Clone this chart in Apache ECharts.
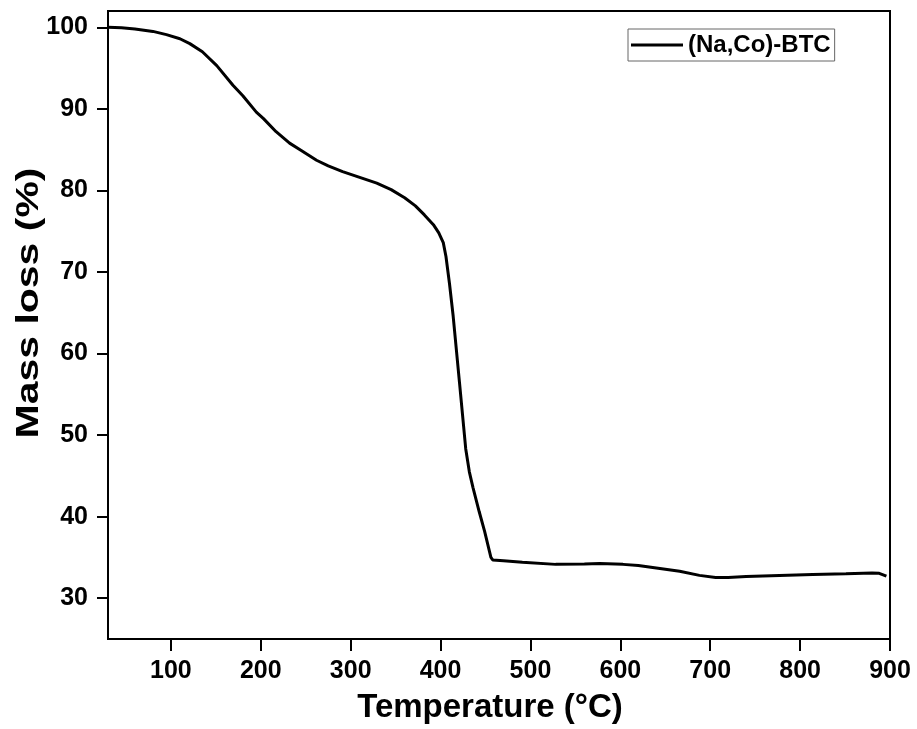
<!DOCTYPE html>
<html>
<head>
<meta charset="utf-8">
<script src="https://cdn.jsdelivr.net/npm/echarts@6/dist/echarts.min.js"></script>
<style>
  html, body { margin: 0; padding: 0; background: #fff; }
  #chart { width: 917px; height: 729px; }
</style>
</head>
<body>
<div id="chart"></div>
<script>
// TGA curve
const temperature = [30, 45, 60, 80, 95, 110, 121, 135, 151, 169, 180, 195, 203, 217, 232, 245, 262, 275, 291, 310,
  329, 345, 360, 372, 382, 392, 398, 403, 406, 410, 414, 421, 428, 432, 436, 443, 449, 456, 458, 470,
  491, 528, 560, 577, 603, 620, 640, 666, 688, 706, 720, 740, 777, 814, 851, 880, 888, 896];
const massLoss = [100, 99.95, 99.8, 99.5, 99.1, 98.6, 98.0, 97.0, 95.3, 92.9, 91.6, 89.6, 88.8, 87.2, 85.8, 84.9, 83.7, 83.0, 82.3, 81.6,
  80.9, 80.1, 79.1, 78.1, 77.0, 75.8, 74.8, 73.6, 71.9, 68.5, 64.6, 56.5, 48.3, 45.5, 43.6, 40.6, 38.2, 35.0, 34.7, 34.6,
  34.4, 34.15, 34.2, 34.25, 34.15, 34.0, 33.7, 33.3, 32.8, 32.55, 32.55, 32.65, 32.8, 32.9, 33.0, 33.1, 33.05, 32.7];
const xTicks = [100, 200, 300, 400, 500, 600, 700, 800, 900];
const yTicks = [30, 40, 50, 60, 70, 80, 90, 100];
const seriesName = '(Na,Co)-BTC';

const font = '"Liberation Sans", Arial, sans-serif';

const chart = echarts.init(document.getElementById('chart'));

const option = {
  backgroundColor: '#fff',
  animation: false,
  grid: {
    left: 108,
    right: 27,
    top: 11,
    bottom: 89,
    show: true,
    borderColor: '#000',
    borderWidth: 2
  },
  legend: {
    left: 628,
    top: 29,
    padding: [4, 4, 4, 3],
    borderColor: '#666',
    borderWidth: 1,
    icon: 'rect',
    itemWidth: 52,
    itemHeight: 3,
    textStyle: { fontFamily: font, fontWeight: 'bold', fontSize: 24, color: '#000' },
    data: [seriesName]
  },
  xAxis: {
    type: 'value',
    min: 30,
    max: 900,
    splitLine: { show: false },
    axisLine: { onZero: false, lineStyle: { color: '#000', width: 2 } },
    axisTick: { customValues: xTicks, length: 12, lineStyle: { color: '#000', width: 2 } },
    axisLabel: {
      customValues: xTicks,
      margin: 20,
      fontFamily: font, fontWeight: 'bold', fontSize: 25, color: '#000'
    },
    name: 'Temperature (°C)',
    nameLocation: 'middle',
    nameGap: 52,
    nameTextStyle: { fontFamily: font, fontWeight: 'bold', fontSize: 33, color: '#000', padding: [0, 18, 0, 0] }
  },
  yAxis: {
    type: 'value',
    min: 25,
    max: 102,
    splitLine: { show: false },
    axisLine: { onZero: false, lineStyle: { color: '#000', width: 2 } },
    axisTick: { customValues: yTicks, length: 11, lineStyle: { color: '#000', width: 2 } },
    axisLabel: {
      customValues: yTicks,
      margin: 20,
      fontFamily: font, fontWeight: 'bold', fontSize: 25, color: '#000'
    }
  },
  graphic: [{
    type: 'text',
    x: 29,
    y: 303,
    rotation: Math.PI / 2,
    scaleX: 1.28,
    style: {
      text: 'Mass loss (%)',
      font: 'bold 32px "Liberation Sans", Arial, sans-serif',
      fill: '#000',
      align: 'center',
      verticalAlign: 'middle'
    }
  }],
  series: [{
    name: seriesName,
    type: 'line',
    showSymbol: false,
    lineStyle: { color: '#000', width: 3 },
    itemStyle: { color: '#000' },
    data: temperature.map((t, i) => [t, massLoss[i]])
  }]
};

chart.setOption(option);
</script>
</body>
</html>
